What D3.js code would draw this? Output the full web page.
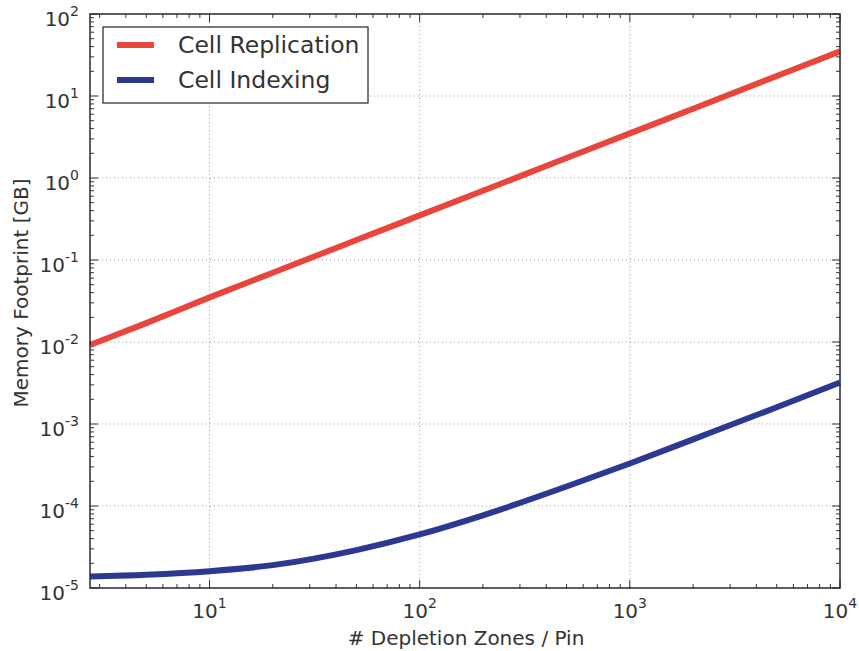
<!DOCTYPE html>
<html>
<head>
<meta charset="utf-8">
<script src="https://cdn.jsdelivr.net/npm/d3@7"></script>
<style>
  body { margin: 0; background: #fff; }
  text { font-family: "DejaVu Sans", sans-serif; fill: #333; }
</style>
</head>
<body>
<svg id="chart" width="859" height="651"></svg>
<script>
// values
var zones = [2.7, 5, 10, 20, 50, 100, 200, 500, 1000, 2000, 5000, 10000];
var replication = [0.0092, 0.017, 0.035, 0.07, 0.175, 0.35, 0.7, 1.75, 3.5, 7, 17.5, 35];
var indexing = [1.38e-5, 1.45e-5, 1.6e-5, 1.9e-5, 2.9e-5, 4.5e-5, 7.7e-5, 1.73e-4, 3.3e-4, 6.5e-4, 1.6e-3, 3.2e-3];
var seriesNames = ["Cell Replication", "Cell Indexing"];
var seriesColors = ["#e8463d", "#2b3990"];
var xTickExp = [1, 2, 3, 4];
var yTickExp = [-5, -4, -3, -2, -1, 0, 1, 2];

var svg = d3.select("#chart");
var pLeft = 90, pRight = 840, pTop = 14, pBottom = 588;

var x = d3.scaleLog().domain([2.7, 1e4]).range([pLeft, pRight]);
var y = d3.scaleLog().domain([1e-5, 1e2]).range([pBottom, pTop]);

var g = svg.append("g");

// grid
g.selectAll(".gx").data(xTickExp).enter().append("line")
  .attr("x1", function(d){ return x(Math.pow(10, d)); })
  .attr("x2", function(d){ return x(Math.pow(10, d)); })
  .attr("y1", pTop).attr("y2", pBottom)
  .attr("stroke", "#999").attr("stroke-width", 1).attr("stroke-dasharray", "1,3");
g.selectAll(".gy").data(yTickExp).enter().append("line")
  .attr("y1", function(d){ return y(Math.pow(10, d)); })
  .attr("y2", function(d){ return y(Math.pow(10, d)); })
  .attr("x1", pLeft).attr("x2", pRight)
  .attr("stroke", "#999").attr("stroke-width", 1).attr("stroke-dasharray", "1,3");

// minor + major ticks, inward, on all four sides
var xMinor = [], yMinor = [];
for (var e = 0; e < 4; e++) for (var m = 2; m < 10; m++) {
  var v = m * Math.pow(10, e);
  if (v > 2.7 && v < 1e4) xMinor.push(v);
}
for (var e2 = -5; e2 < 2; e2++) for (var m2 = 2; m2 < 10; m2++) yMinor.push(m2 * Math.pow(10, e2));

function tickLines(vals, len, isX) {
  vals.forEach(function(v){
    if (isX) {
      var px = x(v);
      g.append("line").attr("x1", px).attr("x2", px).attr("y1", pBottom).attr("y2", pBottom - len).attr("stroke", "#333");
      g.append("line").attr("x1", px).attr("x2", px).attr("y1", pTop).attr("y2", pTop + len).attr("stroke", "#333");
    } else {
      var py = y(v);
      g.append("line").attr("y1", py).attr("y2", py).attr("x1", pLeft).attr("x2", pLeft + len).attr("stroke", "#333");
      g.append("line").attr("y1", py).attr("y2", py).attr("x1", pRight).attr("x2", pRight - len).attr("stroke", "#333");
    }
  });
}
tickLines(xMinor, 4, true);
tickLines(xTickExp.map(function(d){ return Math.pow(10, d); }), 8, true);
tickLines(yMinor, 4, false);
tickLines(yTickExp.map(function(d){ return Math.pow(10, d); }), 8, false);

// lines
var line = d3.line()
  .x(function(d){ return x(d[0]); })
  .y(function(d){ return y(d[1]); })
  .curve(d3.curveMonotoneX);

[replication, indexing].forEach(function(vals, i){
  g.append("path")
    .datum(zones.map(function(z, j){ return [z, vals[j]]; }))
    .attr("d", line)
    .attr("fill", "none")
    .attr("stroke", seriesColors[i])
    .attr("stroke-width", 6);
});

// frame
g.append("rect").attr("x", pLeft).attr("y", pTop)
  .attr("width", pRight - pLeft).attr("height", pBottom - pTop)
  .attr("fill", "none").attr("stroke", "#2a2a3a").attr("stroke-width", 1.5);

// tick labels
xTickExp.forEach(function(d){
  var t = g.append("text").attr("x", x(Math.pow(10, d))).attr("y", 618)
    .attr("text-anchor", "middle").attr("font-size", 20);
  t.append("tspan").text("10");
  t.append("tspan").attr("dy", -10).attr("font-size", 14).text(d);
});
yTickExp.forEach(function(d){
  var t = g.append("text").attr("x", 79).attr("y", y(Math.pow(10, d)) + 12)
    .attr("text-anchor", "end").attr("font-size", 20);
  t.append("tspan").text("10");
  t.append("tspan").attr("dy", -10).attr("font-size", 14).text(d);
});

// axis labels
svg.append("text").attr("x", 466).attr("y", 645)
  .attr("text-anchor", "middle").attr("font-size", 20).text("# Depletion Zones / Pin");
svg.append("text").attr("transform", "translate(28,293) rotate(-90)")
  .attr("text-anchor", "middle").attr("font-size", 20).text("Memory Footprint [GB]");

// legend
var lg = svg.append("g");
lg.append("rect").attr("x", 103).attr("y", 27).attr("width", 265).attr("height", 76)
  .attr("fill", "#fff").attr("stroke", "#222").attr("stroke-width", 1.2);
seriesNames.forEach(function(name, i){
  var ly = 45 + i * 35;
  lg.append("line").attr("x1", 117).attr("x2", 154).attr("y1", ly).attr("y2", ly)
    .attr("stroke", seriesColors[i]).attr("stroke-width", 6);
  lg.append("text").attr("x", 178).attr("y", ly + 8).attr("font-size", 23.5).text(name);
});
</script>
</body>
</html>
